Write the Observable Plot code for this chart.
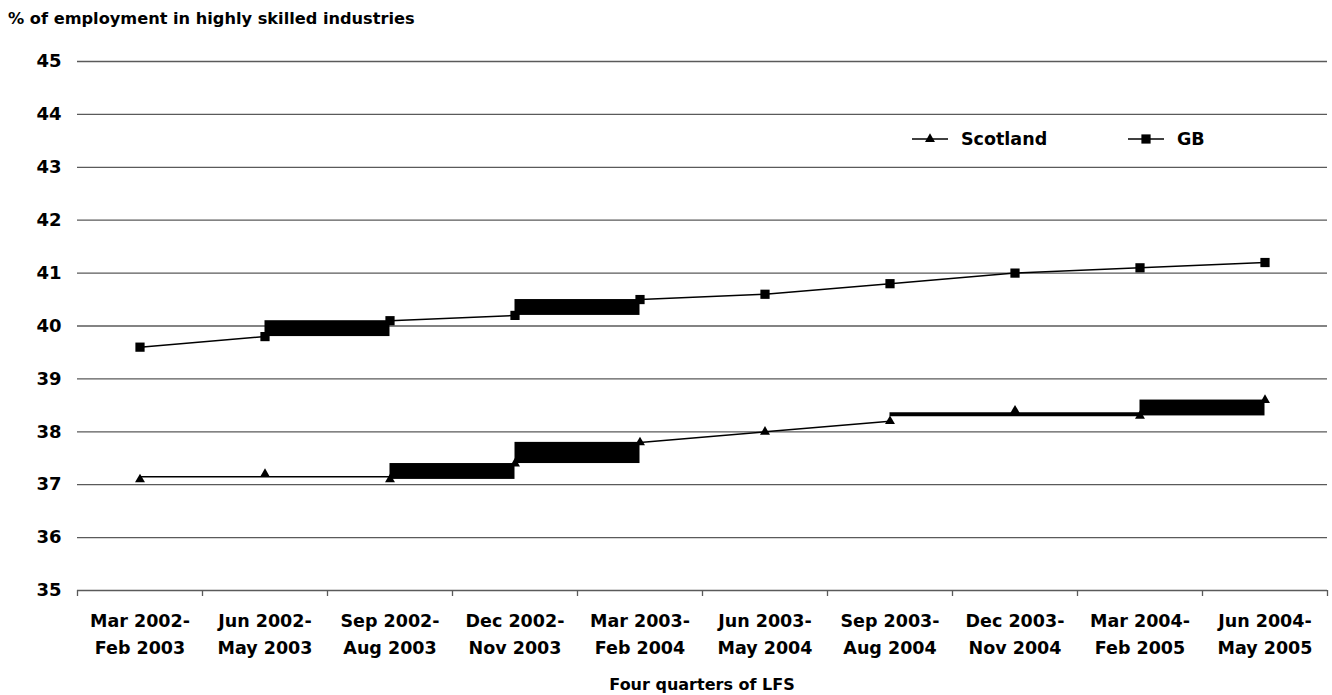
<!DOCTYPE html>
<html><head><meta charset="utf-8">
<script src="https://cdn.jsdelivr.net/npm/d3@7"></script>
<script src="https://cdn.jsdelivr.net/npm/@observablehq/plot@0.6"></script>
<style>
body{margin:0;background:#fff;}
#wrap{position:relative;width:1332px;height:695px;overflow:hidden;background:#fff;font-family:"DejaVu Sans",sans-serif;font-weight:bold;color:#000}
#title{position:absolute;left:8px;top:11px;font-size:16.2px;line-height:16px;white-space:nowrap}
#caption{position:absolute;left:77px;width:1250px;top:677px;font-size:16px;line-height:16px;text-align:center}
#chart{position:absolute;left:0;top:0}
#legend{position:absolute;left:0;top:0}
</style></head><body>
<div id="wrap">
  <div id="chart"></div>
  <div id="title">% of employment in highly skilled industries</div>
  <svg id="legend" width="1332" height="200"></svg>
  <div id="caption">Four quarters of LFS</div>
</div>
<script>
// ---- data ----
const categories = [
  "Mar 2002-\nFeb 2003", "Jun 2002-\nMay 2003", "Sep 2002-\nAug 2003", "Dec 2002-\nNov 2003",
  "Mar 2003-\nFeb 2004", "Jun 2003-\nMay 2004", "Sep 2003-\nAug 2004", "Dec 2003-\nNov 2004",
  "Mar 2004-\nFeb 2005", "Jun 2004-\nMay 2005"
];
const scotland = [37.1, 37.2, 37.1, 37.4, 37.8, 38.0, 38.2, 38.4, 38.3, 38.6];
const gb       = [39.6, 39.8, 40.1, 40.2, 40.5, 40.6, 40.8, 41.0, 41.1, 41.2];
const yTicks = [35, 36, 37, 38, 39, 40, 41, 42, 43, 44, 45];
const seriesNames = ["Scotland", "GB"];
// segments (start index) that the original rendering shows as solid blocks
const scotlandBlocks = [2, 3, 8];
const gbBlocks = [1, 3];
// segments that the original rendering shows as flat runs: [from, to, level]
const scotlandFlat = [[0, 2, 37.15], [6, 8, 38.33]];

// ---- derived tables ----
const idx = d3.range(categories.length);
function segments(values, blocks, flats) {
  const out = [];
  for (let i = 0; i < values.length - 1; i++) {
    if (blocks.includes(i)) continue;
    if (flats.some(([a, b]) => i >= a && i < b)) continue;
    out.push({x1: i, y1: values[i], x2: i + 1, y2: values[i + 1]});
  }
  return out;
}
function blockRects(values, blocks) {
  return blocks.map(i => ({x1: i, x2: i + 1, y1: Math.min(values[i], values[i + 1]), y2: Math.max(values[i], values[i + 1])}));
}
const segs = [...segments(scotland, scotlandBlocks, scotlandFlat), ...segments(gb, gbBlocks, [])];
const rects = [...blockRects(scotland, scotlandBlocks), ...blockRects(gb, gbBlocks)];
const flats = scotlandFlat.map(([a, b, v], k) => ({x1: a, x2: b, y: v, w: k === 0 ? 1.6 : 4}));
const boundaries = d3.range(categories.length + 1).map(i => i - 0.5);

const chart = Plot.plot({
  width: 1332,
  height: 695,
  marginTop: 61,
  marginBottom: 105,
  marginLeft: 77,
  marginRight: 5,
  style: {fontFamily: "'DejaVu Sans', sans-serif", fontWeight: "bold", color: "#000", background: "transparent"},
  x: {type: "linear", domain: [-0.5, categories.length - 0.5]},
  y: {domain: [35, 45]},
  marks: [
    Plot.ruleY(yTicks, {stroke: "#5a5a5a", strokeWidth: 1.3}),
    Plot.axisX(boundaries, {tickSize: 6, tickFormat: () => "", stroke: "#5a5a5a", strokeWidth: 1.3}),
    Plot.axisX(idx, {tickSize: 0, tickPadding: 17, tickFormat: i => categories[i], fontSize: 17.5, lineHeight: 1.54, label: null}),
    Plot.axisY(yTicks, {tickSize: 0, tickPadding: 16, fontSize: 18, tickFormat: d => String(d), label: null}),
    Plot.link(segs, {x1: "x1", y1: "y1", x2: "x2", y2: "y2", stroke: "#000", strokeWidth: 1.5}),
    Plot.rect(rects, {x1: "x1", x2: "x2", y1: "y1", y2: "y2", fill: "#000"}),
    Plot.ruleY(flats, {x1: "x1", x2: "x2", y: "y", stroke: "#000", strokeWidth: "w"}),
    Plot.dot(idx, {x: i => i, y: i => scotland[i], symbol: "triangle", r: 3.7, fill: "#000", stroke: null}),
    Plot.dot(idx, {x: i => i, y: i => gb[i], symbol: "square", r: 5.2, fill: "#000", stroke: null})
  ]
});
document.getElementById("chart").appendChild(chart);

// ---- legend ----
const lg = d3.select("#legend");
const legendItems = [
  {name: seriesNames[0], x: 912, sym: d3.symbol(d3.symbolTriangle, Math.PI * 3.7 * 3.7)()},
  {name: seriesNames[1], x: 1128, sym: d3.symbol(d3.symbolSquare, Math.PI * 5.2 * 5.2)()}
];
for (const it of legendItems) {
  const g = lg.append("g").attr("transform", `translate(${it.x},139)`);
  g.append("line").attr("x1", 0).attr("x2", 36).attr("stroke", "#000").attr("stroke-width", 1.5);
  g.append("path").attr("d", it.sym).attr("transform", "translate(18,0)").attr("fill", "#000");
  g.append("text").attr("x", 49).attr("y", 6.4).attr("font-size", 17.5)
    .attr("font-family", "'DejaVu Sans', sans-serif").attr("font-weight", "bold").text(it.name);
}
</script>
</body></html>
